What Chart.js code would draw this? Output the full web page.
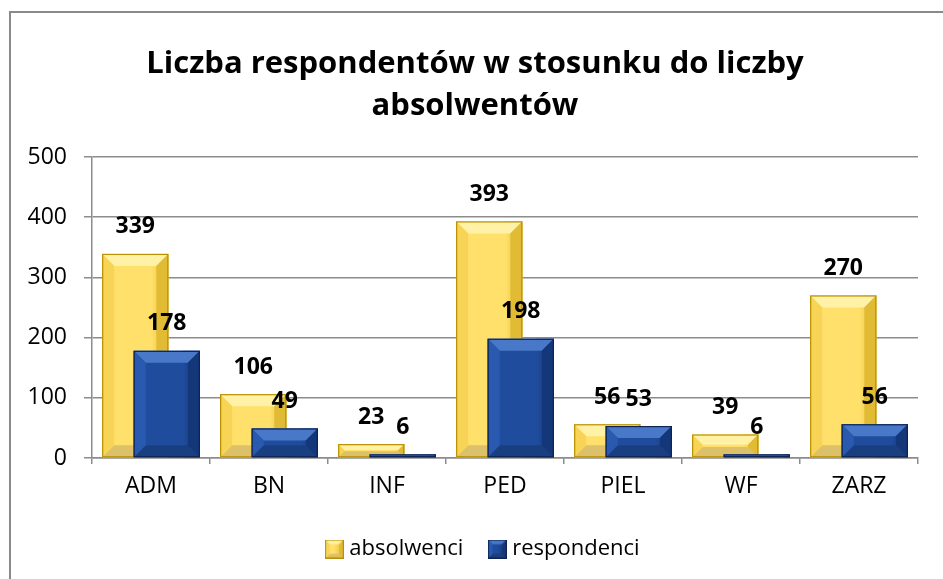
<!DOCTYPE html>
<html lang="pl">
<head>
<meta charset="UTF-8">
<title>Liczba respondentów w stosunku do liczby absolwentów</title>
<script src="https://cdn.jsdelivr.net/npm/chart.js@4.4.0/dist/chart.umd.min.js"></script>
<style>
    html, body { margin: 0; padding: 0; background: #fff; overflow: hidden; }
    .wrap { position: relative; width: 943px; height: 579px; }
    .frame { position: absolute; left: 9px; top: 11px; width: 1000px; height: 700px;
             border: 2px solid #8a8a8a; pointer-events: none; }
</style>
</head>
<body>
<div class="wrap">
    <canvas id="chart" width="943" height="579"></canvas>
    <div class="frame"></div>
</div>
<script>
// data
const categories = ['ADM', 'BN', 'INF', 'PED', 'PIEL', 'WF', 'ZARZ'];
const absolwenci = [339, 106, 23, 393, 56, 39, 270];
const respondenci = [178, 49, 6, 198, 53, 6, 56];
const seriesNames = ['absolwenci', 'respondenci'];
const yTicks = [0, 100, 200, 300, 400, 500];

const FONT = "'Open Sans', Carlito, Lato, sans-serif";

// bevelled look, one per series
const looks = [
    { face: '#ffe06a', top: '#fff1a6', left: '#f7d455', right: '#e2bb35', bottom: '#dcc06a', edge: '#b88f05' },
    { face: '#1f4c9c', top: '#4a78c8', left: '#2a5ab0', right: '#14377a', bottom: '#1a3f80', edge: '#0e2352' }
];

function poly(ctx, pts, color) {
    ctx.beginPath();
    ctx.moveTo(pts[0], pts[1]);
    for (let i = 2; i < pts.length; i += 2) ctx.lineTo(pts[i], pts[i + 1]);
    ctx.closePath();
    ctx.fillStyle = color;
    ctx.fill();
}

function drawBevel(ctx, x, top, base, w, c) {
    const l = x - w / 2, r = x + w / 2, h = base - top;
    if (h <= 0) return;
    const b = Math.min(12, h / 2.2, w / 4);
    ctx.save();
    ctx.fillStyle = c.face;
    ctx.fillRect(l, top, w, h);
    // right side shading
    const g = ctx.createLinearGradient(r - b - 5, 0, r, 0);
    g.addColorStop(0, c.face);
    g.addColorStop(1, c.right);
    ctx.fillStyle = g;
    ctx.fillRect(r - b - 5, top, b + 5, h);
    poly(ctx, [l, top, r, top, r - b, top + b, l + b, top + b], c.top);
    poly(ctx, [l, base, r, base, r - b, base - b, l + b, base - b], c.bottom);
    poly(ctx, [l, top, l + b, top + b, l + b, base - b, l, base], c.left);
    poly(ctx, [r, top, r - b, top + b, r - b, base - b, r, base], c.right);
    ctx.strokeStyle = c.edge;
    ctx.lineWidth = 1.2;
    ctx.strokeRect(l + 0.5, top + 0.5, w - 1, h - 1);
    ctx.restore();
}

function legendIcon(c) {
    const cv = document.createElement('canvas');
    cv.width = 19; cv.height = 19;
    drawBevel(cv.getContext('2d'), 9.5, 0, 19, 19, c);
    return cv;
}
const icons = looks.map(legendIcon);

// draws the bars in series order so the right bar sits over the left one
const barLook = {
    id: 'barLook',
    afterLayout(chart) {
        // title and legend sit a little right of the canvas centre in the original
        chart.titleBlock.left += 16;
        chart.titleBlock.right += 16;
        chart.legend.left += 26;
        chart.legend.right += 26;
    },
    beforeDatasetsDraw(chart) {
        const ctx = chart.ctx;
        chart.data.datasets.forEach((ds, i) => {
            const meta = chart.getDatasetMeta(i);
            if (meta.hidden) return;
            meta.data.forEach(bar => {
                const p = bar.getProps(['x', 'y', 'base', 'width'], true);
                drawBevel(ctx, p.x, p.y, p.base, p.width, looks[i]);
            });
        });
        return false;
    },
    afterDraw(chart) {
        const ctx = chart.ctx;
        ctx.save();
        ctx.font = 'bold 23px ' + FONT;
        ctx.fillStyle = '#000';
        ctx.textAlign = 'center';
        ctx.textBaseline = 'middle';
        chart.data.datasets.forEach((ds, i) => {
            chart.getDatasetMeta(i).data.forEach((bar, j) => {
                const p = bar.getProps(['x', 'y'], true);
                ctx.fillText(String(ds.data[j]), p.x, p.y - 27);
            });
        });
        ctx.restore();
    }
};

Chart.defaults.color = '#000';
Chart.defaults.font.family = FONT;

new Chart(document.getElementById('chart'), {
    type: 'bar',
    data: {
        labels: categories,
        datasets: [
            { label: seriesNames[0], data: absolwenci, backgroundColor: looks[0].face, borderColor: looks[0].edge },
            { label: seriesNames[1], data: respondenci, backgroundColor: looks[1].face, borderColor: looks[1].edge }
        ]
    },
    options: {
        responsive: false,
        animation: false,
        categoryPercentage: 0.534,
        barPercentage: 2.1,
        layout: { padding: { top: 43, left: 0, right: 25, bottom: 9 } },
        plugins: {
            title: {
                display: true,
                text: ['Liczba respondentów w stosunku do liczby', 'absolwentów'],
                font: { size: 31, weight: 'bold', lineHeight: 1.355 },
                padding: { top: 0, bottom: 30 }
            },
            legend: {
                position: 'bottom',
                labels: {
                    usePointStyle: true,
                    pointStyleWidth: 8,
                    font: { size: 22 },
                    padding: 30,
                    generateLabels: chart => chart.data.datasets.map((ds, i) => ({
                        text: ds.label,
                        fillStyle: ds.backgroundColor,
                        strokeStyle: ds.borderColor,
                        lineWidth: 1,
                        pointStyle: icons[i],
                        fontColor: '#000',
                        hidden: false,
                        datasetIndex: i
                    }))
                }
            },
            tooltip: { enabled: false }
        },
        scales: {
            x: {
                grid: { drawOnChartArea: false, drawTicks: true, tickLength: 6, color: '#8c8c8c', lineWidth: 1.5 },
                border: { color: '#8c8c8c', width: 1.5 },
                ticks: { font: { size: 23 }, padding: 9 },
                afterFit: s => { s.height = 50; }
            },
            y: {
                min: 0,
                max: 500,
                z: 1,
                afterBuildTicks: s => { s.ticks = yTicks.map(v => ({ value: v })); },
                grid: { color: '#8c8c8c', tickLength: 8, lineWidth: 1.5 },
                border: { color: '#8c8c8c', width: 1.5 },
                ticks: { font: { size: 23 }, padding: 17 },
                afterFit: s => { s.width = 92; }
            }
        }
    },
    plugins: [barLook]
});
</script>
</body>
</html>
